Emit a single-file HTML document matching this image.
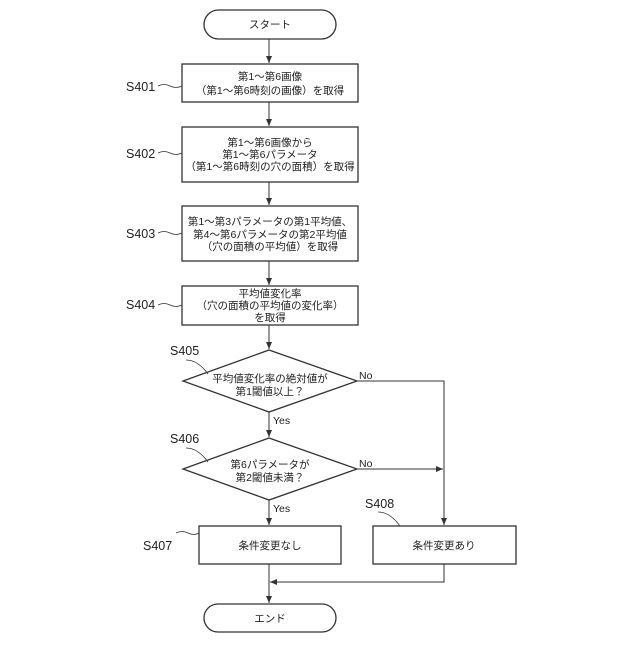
<!DOCTYPE html>
<html><head><meta charset="utf-8"><style>
body{margin:0;background:#fff}
svg text{font-family:"Liberation Sans","Noto Sans CJK JP",sans-serif;fill:#222}
</style></head><body>
<svg width="640" height="640" viewBox="0 0 640 640" xmlns="http://www.w3.org/2000/svg">
<defs><marker id="a" markerWidth="8" markerHeight="8" refX="7" refY="4" orient="auto" markerUnits="userSpaceOnUse"><path d="M0,1 L7,4 L0,7 Z" fill="#333"/></marker></defs>
<g stroke="#333" stroke-width="1.3" fill="none">
<rect x="204" y="10" width="132" height="29" rx="14.5"/>
<rect x="182" y="64" width="176" height="38"/>
<rect x="182" y="127" width="176" height="55"/>
<rect x="182" y="206" width="176" height="55"/>
<rect x="182" y="286" width="176" height="39"/>
<polygon points="269,350 357,381 269,412 183,381"/>
<polygon points="269,438 357,469 269,500 183,469"/>
<rect x="199" y="526" width="142" height="38"/>
<rect x="373" y="526" width="143" height="38"/>
<rect x="204" y="604" width="132" height="28" rx="14"/>
</g>
<g stroke="#333" stroke-width="1" fill="none" marker-end="url(#a)">
<line x1="269" y1="39" x2="269" y2="63"/>
<line x1="269" y1="102" x2="269" y2="126"/>
<line x1="269" y1="182" x2="269" y2="205"/>
<line x1="269" y1="261" x2="269" y2="285"/>
<line x1="269" y1="325" x2="269" y2="349"/>
<line x1="269" y1="412" x2="269" y2="437"/>
<line x1="269" y1="500" x2="269" y2="525"/>
<polyline points="357,381 444,381 444,525"/>
<line x1="357" y1="469" x2="443" y2="469"/>
<polyline points="444,564 444,582 270,582"/>
<line x1="269" y1="564" x2="269" y2="603"/>
</g>
<g stroke="#333" stroke-width="0.8" fill="none">
<path d="M158,86 q6,-3 12,0 t12,0"/>
<path d="M158,153 q6,-3 12,0 t12,0"/>
<path d="M158,233 q6,-3 12,0 t12,0"/>
<path d="M158,305 q6,-3 12,0 t12,0"/>
<path d="M176,533 q6,-3 12,0 t11,0"/>
<path d="M186,360 q12,0 22,14"/>
<path d="M186,448 q12,0 22,14"/>
<path d="M378,512 q12,0 22,14"/>
</g>
<g font-size="10.5" text-anchor="middle">
<text x="270" y="28">スタート</text>
<text x="270" y="80">第1～第6画像</text>
<text x="270" y="94">（第1～第6時刻の画像）を取得</text>
<text x="270" y="146">第1～第6画像から</text>
<text x="270" y="158">第1～第6パラメータ</text>
<text x="270" y="170">（第1～第6時刻の穴の面積）を取得</text>
<text x="270" y="225">第1～第3パラメータの第1平均値、</text>
<text x="270" y="238">第4～第6パラメータの第2平均値</text>
<text x="270" y="250">（穴の面積の平均値）を取得</text>
<text x="270" y="297">平均値変化率</text>
<text x="270" y="309">（穴の面積の平均値の変化率）</text>
<text x="270" y="321">を取得</text>
<text x="270" y="382">平均値変化率の絶対値が</text>
<text x="270" y="395">第1閾値以上？</text>
<text x="270" y="468">第6パラメータが</text>
<text x="270" y="481">第2閾値未満？</text>
<text x="270" y="549">条件変更なし</text>
<text x="444" y="549">条件変更あり</text>
<text x="270" y="622">エンド</text>
</g>
<g font-size="12.5">
<text x="126" y="91">S401</text>
<text x="126" y="158">S402</text>
<text x="126" y="238">S403</text>
<text x="126" y="309">S404</text>
<text x="170" y="355">S405</text>
<text x="170" y="443">S406</text>
<text x="143" y="550">S407</text>
<text x="365" y="508">S408</text>
</g>
<g font-size="10.5">
<text x="359" y="379">No</text>
<text x="359" y="467">No</text>
<text x="273" y="424">Yes</text>
<text x="273" y="512">Yes</text>
</g>
</svg>
</body></html>
